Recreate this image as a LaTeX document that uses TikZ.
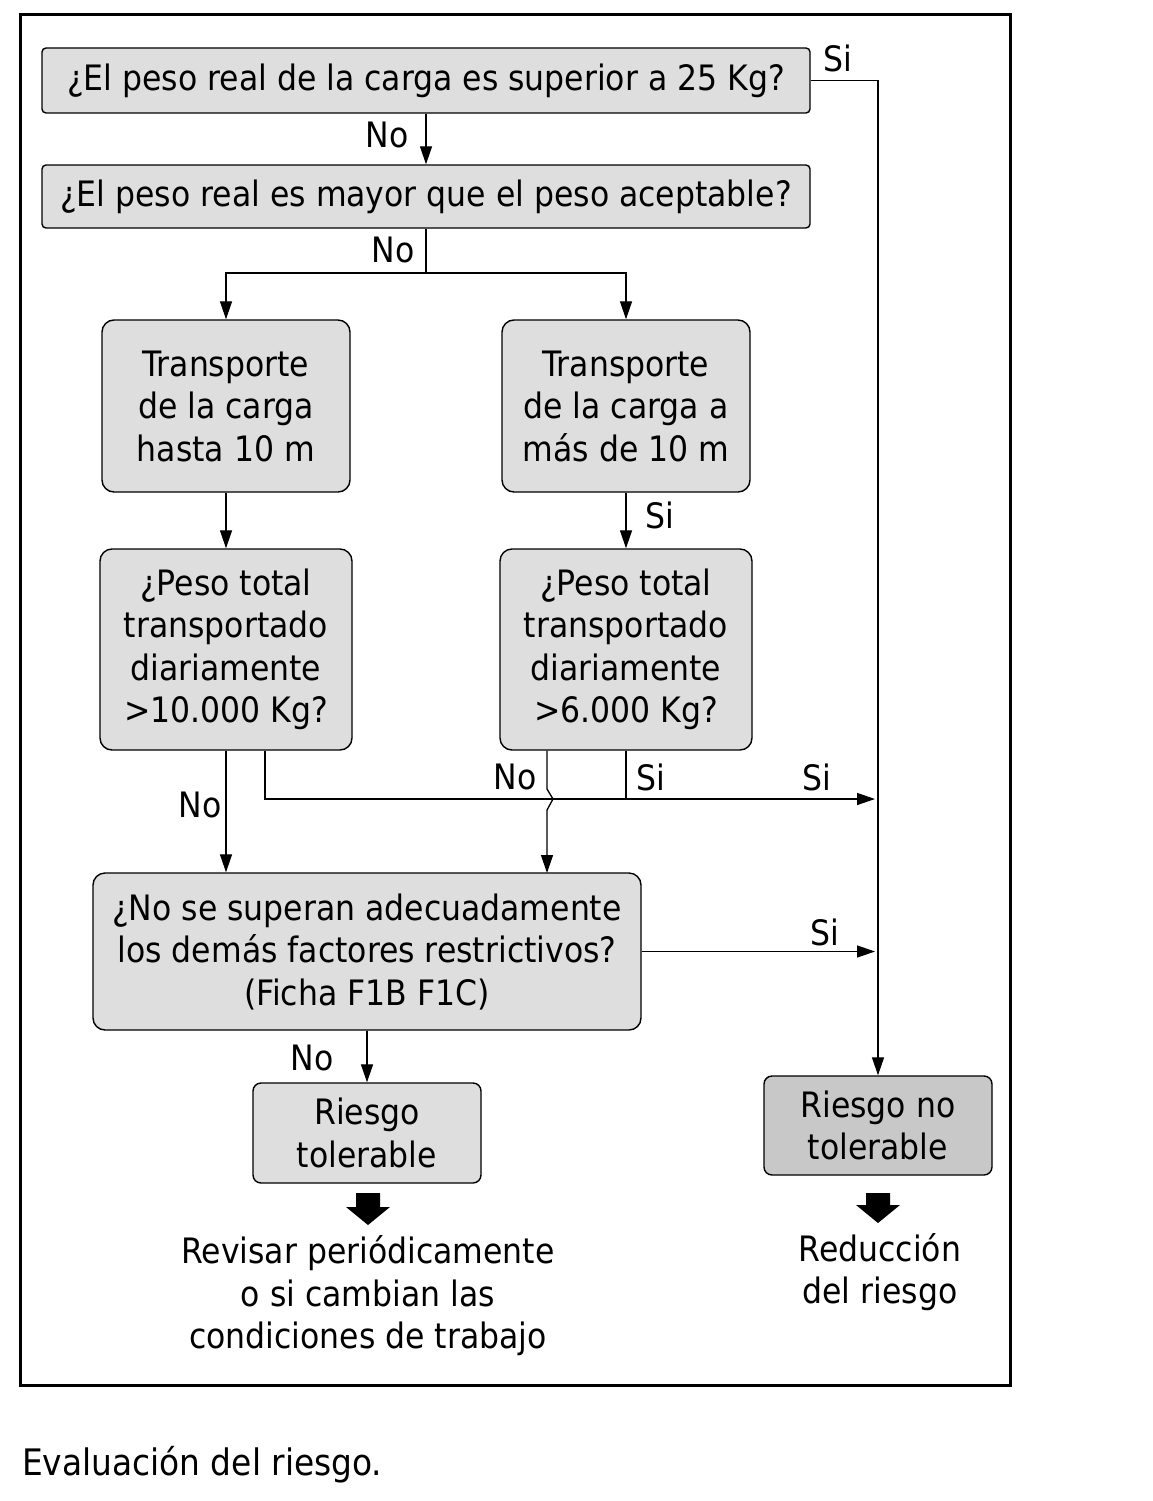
\documentclass[tikz,border=0pt]{standalone}
\usepackage{fontspec}
\setmainfont{DejaVu Sans Condensed}
\usetikzlibrary{arrows.meta}
\definecolor{boxfill}{RGB}{222,222,222}
\definecolor{darkfill}{RGB}{200,200,200}
\begin{document}
\begin{tikzpicture}[x=1pt,y=-1pt,
  every node/.style={font=\fontsize{35}{42.5}\selectfont, inner sep=0pt},
  box/.style={draw=black, line width=1.4pt, fill=boxfill, rounded corners=#1, align=center},
  box/.default=12pt,
  conn/.style={line width=1.3pt},
  arr/.style={conn, -{Triangle[length=18pt,width=12pt]}},
  lbl/.style={font=\fontsize{35}{40}\selectfont},
  blockarrow/.style={fill=black, draw=none}]
\useasboundingbox (0,0) rectangle (1152,1501);
\fill[white] (0,0) rectangle (1152,1501);
\draw[line width=3pt] (20,15) rectangle (1010,1385);

\node[box=4pt, minimum width=768pt, minimum height=65pt] (b1) at (426,80.5) {¿El peso real de la carga es superior a 25 Kg?};
\node[box=4pt, minimum width=768pt, minimum height=63pt] (b2) at (426,196.5) {¿El peso real es mayor que el peso aceptable?};
\node[box, minimum width=248pt, minimum height=172pt] (b3) at (226,406) {Transporte\\de la carga\\hasta 10 m};
\node[box, minimum width=248pt, minimum height=172pt] (b4) at (626,406) {Transporte\\de la carga a\\más de 10 m};
\node[box, minimum width=252pt, minimum height=201pt] (b5) at (226,649.5) {¿Peso total\\transportado\\diariamente\\>10.000 Kg?};
\node[box, minimum width=252pt, minimum height=201pt] (b6) at (626,649.5) {¿Peso total\\transportado\\diariamente\\>6.000 Kg?};
\node[box, minimum width=548pt, minimum height=157pt] (b7) at (367,951.5) {¿No se superan adecuadamente\\los demás factores restrictivos?\\(Ficha F1B F1C)};
\node[box=8pt, minimum width=228pt, minimum height=100pt] (b9) at (367,1133) {Riesgo\\tolerable};
\node[box=8pt, fill=darkfill, minimum width=228pt, minimum height=99pt] (b8) at (878,1125.5) {Riesgo no\\tolerable};

% connectors
\coordinate (split) at (426,273);
\coordinate (rtop) at (878,80.5);
\coordinate (r1) at (875,799);
\draw[arr] (b1.south) -- (b2.north);
\draw[conn] (b2.south) -- (split);
\draw[arr] (split) -| (b3.north);
\draw[arr] (split) -| (b4.north);
\draw[arr] (b3.south) -- (b5.north);
\draw[arr] (b4.south) -- (b6.north);
\draw[arr] (b5.south) -- (b5.south |- b7.north);
\draw[arr] ([xshift=39pt]b5.south) |- (r1);
\draw[conn] (b6.south) -- (b6.south |- r1);
\draw[arr] ([xshift=-79pt]b6.south) -- (547,789) -- (553,799) -- (547,810) -- (547,873);
\draw[arr] (b7.east) -- (b7.east -| r1);
\draw[arr] (b1.east) -- (rtop) -- (b8.north);
\draw[arr] (b7.south) -- (b9.north);

% labels
\node[lbl] (l1) at (838,58) {Si};
\node[lbl] (l2) at (387,135) {No};
\node[lbl] (l3) at (393,250) {No};
\node[lbl] (l4) at (660,515) {Si};
\node[lbl] (l5) at (200,805) {No};
\node[lbl] (l6) at (515,777) {No};
\node[lbl] (l7) at (651,777) {Si};
\node[lbl] (l8) at (817,777) {Si};
\node[lbl] (l9) at (825,932) {Si};
\node[lbl] (l10) at (312,1058) {No};

% block arrows
\fill[blockarrow] (356,1193) -- (380,1193) -- (380,1207) -- (390,1207) -- (368,1225) -- (346,1207) -- (356,1207) -- cycle;
\fill[blockarrow] (866,1193) -- (890,1193) -- (890,1205) -- (900,1205) -- (878,1223) -- (856,1205) -- (866,1205) -- cycle;

\node[align=center] (t1) at (368,1296) {Revisar periódicamente\\o si cambian las\\condiciones de trabajo};
\node[align=center] (t2) at (880,1272) {Reducción\\del riesgo};
\node[anchor=west, font=\fontsize{36.5}{42}\selectfont] (cap) at (22,1465) {Evaluación del riesgo.};
\end{tikzpicture}
\end{document}
